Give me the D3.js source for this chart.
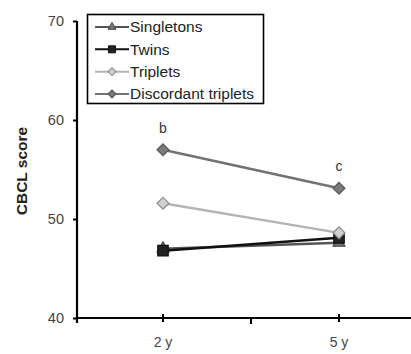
<!DOCTYPE html>
<html>
<head>
<meta charset="utf-8">
<script src="https://cdn.jsdelivr.net/npm/d3@7"></script>
<style>
  body { margin: 0; background: #fff; }
  svg { display: block; font-family: "Liberation Sans", Arial, sans-serif; }
</style>
</head>
<body>
<svg id="chart" width="411" height="354"></svg>
<script>
const ages = ['2 y', '5 y'];
const seriesNames = ['Singletons', 'Twins', 'Triplets', 'Discordant triplets'];
const singletons = [47.0, 47.6];
const twins = [46.8, 48.1];
const triplets = [51.6, 48.6];
const discordant = [57.0, 53.1];
const yTicks = [40, 50, 60, 70];
const notes = [{ age: '2 y', value: 57.0, text: 'b' }, { age: '5 y', value: 53.1, text: 'c' }];

// diamonds are squares turned 45 degrees
const series = [
  { name: seriesNames[0], values: singletons, line: '#555', fill: '#777', stroke: '#444', shape: d3.symbolTriangle, size: 60, rot: 0 },
  { name: seriesNames[1], values: twins, line: '#111', fill: '#222', stroke: '#111', shape: d3.symbolSquare, size: 110, rot: 0 },
  { name: seriesNames[2], values: triplets, line: '#b4b4b4', fill: '#cfcfcf', stroke: '#8a8a8a', shape: d3.symbolSquare, size: 70, rot: 45 },
  { name: seriesNames[3], values: discordant, line: '#727272', fill: '#7a7a7a', stroke: '#555', shape: d3.symbolSquare, size: 70, rot: 45 }
];

const svg = d3.select('#chart');
const axisX0 = 77, axisY0 = 318;

const x = d3.scaleBand().domain(ages).range([75, 427]);
const y = d3.scaleLinear().domain([40, 70]).range([axisY0, 21]);
const cx = a => x(a) + x.bandwidth() / 2;

// y axis
const gy = svg.append('g').attr('transform', `translate(${axisX0},0)`)
  .call(d3.axisLeft(y).tickValues(yTicks).tickSize(4).tickPadding(9));
gy.select('.domain').attr('stroke', '#000').attr('stroke-width', 2.2).attr('d', `M0,${y(70)}V${axisY0 + 5}`);
gy.selectAll('.tick line').attr('stroke', '#000').attr('stroke-width', 2);
gy.selectAll('.tick text').attr('fill', '#444').style('font-size', '14.5px');

// x axis
const gx = svg.append('g').attr('transform', `translate(0,${axisY0})`);
gx.append('line').attr('x1', axisX0).attr('x2', 411).attr('stroke', '#000').attr('stroke-width', 2.2);
gx.selectAll('line.tk').data(ages).join('line').attr('class', 'tk')
  .attr('x1', cx).attr('x2', cx).attr('y1', -4).attr('y2', 4)
  .attr('stroke', '#000').attr('stroke-width', 2);
gx.selectAll('line.bd').data(ages.slice(1)).join('line').attr('class', 'bd')
  .attr('x1', d => x(d)).attr('x2', d => x(d)).attr('y1', 0).attr('y2', 6)
  .attr('stroke', '#000').attr('stroke-width', 2);
gx.selectAll('text').data(ages).join('text')
  .attr('x', cx).attr('y', 29).attr('text-anchor', 'middle')
  .attr('fill', '#444').style('font-size', '14px').text(d => d);

// y title
svg.append('text')
  .attr('transform', 'translate(27,171) rotate(-90)')
  .attr('text-anchor', 'middle').attr('font-weight', 'bold')
  .style('font-size', '15.5px').attr('fill', '#222').text('CBCL score');

// lines + markers
const line = d3.line().x((d, i) => cx(ages[i])).y(d => y(d));
series.forEach(s => {
  svg.append('path').datum(s.values).attr('d', line)
    .attr('fill', 'none').attr('stroke', s.line).attr('stroke-width', 2.5);
});
series.forEach(s => {
  svg.selectAll(null).data(s.values).join('path')
    .attr('transform', (d, i) => `translate(${cx(ages[i])},${y(d)}) rotate(${s.rot})`)
    .attr('d', d3.symbol().type(s.shape).size(s.size))
    .attr('fill', s.fill).attr('stroke', s.stroke).attr('stroke-width', 1.2);
});

// annotations
svg.selectAll('text.note').data(notes).join('text').attr('class', 'note')
  .attr('x', d => cx(d.age)).attr('y', d => y(d.value) - 17)
  .attr('text-anchor', 'middle').attr('fill', '#333').style('font-size', '14px')
  .text(d => d.text);

// legend
const lg = svg.append('g');
lg.append('rect').attr('x', 87.5).attr('y', 14.5).attr('width', 176).attr('height', 89)
  .attr('fill', '#fff').attr('stroke', '#000').attr('stroke-width', 1.6);
const rowY = d3.scalePoint().domain(seriesNames).range([27, 94]);
series.forEach(s => {
  const ry = rowY(s.name);
  lg.append('line').attr('x1', 95).attr('x2', 129).attr('y1', ry).attr('y2', ry)
    .attr('stroke', s.line).attr('stroke-width', 2);
  lg.append('path').attr('transform', `translate(112,${ry}) rotate(${s.rot})`)
    .attr('d', d3.symbol().type(s.shape).size(s.size * 0.45))
    .attr('fill', s.fill).attr('stroke', s.stroke).attr('stroke-width', 1);
  lg.append('text').attr('x', 130).attr('y', ry).attr('dy', '0.35em')
    .attr('fill', '#222').style('font-size', '15.5px').text(s.name);
});
</script>
</body>
</html>
